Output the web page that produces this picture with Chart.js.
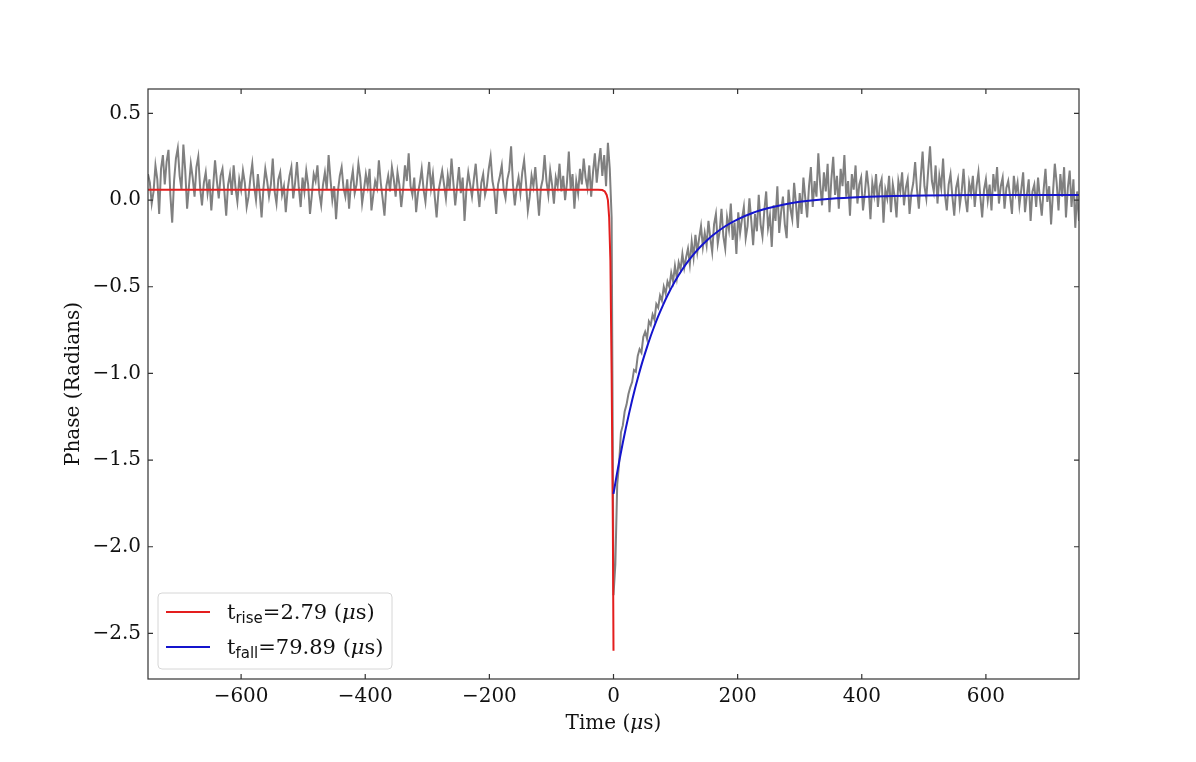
<!DOCTYPE html>
<html>
<head>
<meta charset="utf-8">
<title>Phase pulse</title>
<script src="https://cdn.jsdelivr.net/npm/chart.js@4.4.1/dist/chart.umd.min.js"></script>
<style>
  body { margin: 0; background: #fff; }
  canvas { display: block; }
</style>
</head>
<body>
<canvas id="phaseChart" width="1196" height="762"></canvas>
<script>
// Measured phase, sampled every 3 us
const sampleStep = 3;
const preStart = -750;   // first sample before the pulse
const prePhase = [
    0.15, 0.10, -0.02, 0.05, 0.20, 0.12, -0.08, 0.18, 0.26, 0.09,
    0.22, 0.29, 0.03, -0.13, 0.11, 0.24, 0.30, 0.14, 0.06, 0.32,
    0.17, -0.05, 0.08, 0.21, 0.13, 0.02, 0.19, 0.25, 0.07, -0.03,
    0.10, 0.16, 0.04, 0.12, -0.06, 0.08, 0.23, 0.11, 0.01, 0.14,
    0.18, 0.05, -0.09, 0.09, 0.15, 0.03, 0.20, 0.07, -0.01, 0.12,
    0.06, 0.17, 0.10, -0.04, 0.02, 0.13, 0.21, 0.08, 0.00, 0.15,
    0.04, -0.10, 0.07, 0.18, 0.11, 0.02, 0.09, 0.24, 0.05, -0.02,
    0.12, 0.16, 0.03, 0.08, -0.07, 0.06, 0.14, 0.19, 0.01, 0.10,
    0.22, 0.07, -0.04, 0.13, 0.05, 0.17, 0.09, -0.08, 0.03, 0.15,
    0.11, 0.20, 0.04, -0.03, 0.09, 0.16, 0.06, 0.26, 0.12, 0.00,
    0.08, -0.11, 0.05, 0.14, 0.19, 0.07, 0.02, 0.12, -0.05, 0.10,
    0.17, 0.04, 0.09, 0.21, 0.13, -0.02, 0.06, 0.15, 0.08, 0.18,
    -0.06, 0.03, 0.11, 0.07, 0.23, 0.10, 0.01, -0.09, 0.08, 0.14,
    0.05, 0.19, 0.12, 0.02, 0.16, 0.09, -0.04, 0.06, 0.20, 0.11,
    0.27, 0.08, 0.03, 0.13, -0.07, 0.04, 0.10, 0.18, 0.06, -0.01,
    0.12, 0.22, 0.07, 0.15, 0.02, -0.10, 0.05, 0.11, 0.17, 0.09,
    0.01, 0.14, 0.06, 0.24, 0.10, -0.03, 0.08, 0.19, 0.04, 0.13,
    -0.12, 0.06, 0.16, 0.09, 0.02, 0.12, 0.21, 0.07, -0.04, 0.10,
    0.15, 0.03, 0.08, 0.18, 0.25, 0.11, 0.05, -0.08, 0.09, 0.14,
    0.20, 0.06, 0.01, 0.12, 0.17, 0.31, 0.09, -0.03, 0.07, 0.13,
    0.04, 0.16, 0.23, 0.10, -0.06, 0.02, 0.14, 0.08, 0.19, 0.05,
    -0.09, 0.07, 0.12, 0.26, 0.11, 0.03, 0.17, 0.09, -0.02, 0.13,
    0.08, 0.21, 0.05, 0.14, 0.00, 0.10, 0.28, 0.06, 0.15, -0.05,
    0.11, 0.04, 0.18, 0.09, 0.24, 0.13, 0.07, 0.20, 0.02, 0.16,
    0.27, 0.10, 0.21, 0.30, 0.14, 0.26, 0.08, 0.33, 0.18, -0.10
];
const postStart = 0;     // first sample from the pulse on
const postPhase = [
    -2.28, -2.10, -1.64, -1.52, -1.34, -1.30, -1.22, -1.18, -1.12, -1.08,
    -1.05, -0.98, -0.99, -0.90, -0.86, -0.88, -0.79, -0.76, -0.80, -0.70,
    -0.72, -0.66, -0.69, -0.60, -0.62, -0.55, -0.58, -0.50, -0.54, -0.47,
    -0.50, -0.42, -0.47, -0.38, -0.45, -0.36, -0.40, -0.31, -0.39, -0.33,
    -0.28, -0.37, -0.24, -0.33, -0.20, -0.30, -0.22, -0.15, -0.27, -0.19,
    -0.26, -0.12, -0.22, -0.30, -0.14, -0.08, -0.25, -0.18, -0.05, -0.21,
    -0.28, -0.10, -0.17, -0.02, -0.23, -0.13, -0.31, -0.07, -0.19, -0.11,
    -0.04, -0.22, -0.15, 0.01, -0.12, -0.26, -0.08, -0.18, 0.03, -0.14,
    -0.21, -0.06, 0.05, -0.16, -0.09, -0.27, -0.03, -0.12, 0.08, -0.19,
    -0.07, 0.02, -0.14, -0.22, 0.06, -0.05, -0.11, 0.10, -0.02, -0.16,
    0.04, -0.08, 0.13, 0.01, -0.10, 0.08, 0.19, -0.04, 0.11, 0.02,
    0.27, 0.09, -0.03, 0.16, 0.05, 0.21, -0.07, 0.12, 0.25, 0.03,
    0.14, -0.05, 0.18, 0.08, 0.26, 0.02, 0.11, -0.09, 0.15, 0.06,
    0.20, -0.02, 0.09, 0.13, -0.06, 0.04, 0.17, 0.07, -0.11, 0.10,
    0.03, 0.15, -0.04, 0.08, 0.12, -0.13, 0.06, 0.01, 0.14, -0.07,
    0.09, 0.02, -0.10, 0.11, 0.05, 0.16, -0.03, 0.07, 0.12, -0.08,
    0.04, 0.10, 0.22, 0.06, -0.05, 0.13, 0.28, 0.08, 0.01, 0.17,
    0.31, 0.11, 0.05, 0.20, -0.02, 0.14, 0.07, 0.24, 0.03, -0.06,
    0.09, 0.15, 0.02, -0.09, 0.07, 0.12, -0.03, 0.05, 0.18, 0.01,
    -0.07, 0.10, 0.04, 0.14, -0.04, 0.08, 0.16, 0.02, -0.10, 0.06,
    0.12, 0.00, 0.09, -0.06, 0.15, 0.05, 0.19, -0.02, 0.08, 0.13,
    -0.05, 0.07, 0.11, 0.02, -0.08, 0.14, 0.04, 0.10, -0.03, 0.06,
    0.16, -0.07, 0.03, 0.12, -0.12, 0.05, 0.09, -0.04, 0.13, 0.01,
    -0.09, 0.06, 0.18, -0.01, 0.08, -0.14, 0.04, 0.21, 0.10, -0.06,
    0.15, 0.02, 0.19, -0.10, 0.07, 0.17, -0.04, 0.12, -0.16, 0.05,
    -0.12
];

// Rise fit (red)
const riseTimes = [-750, -25, -18, -14, -11, -9, -7, -5, -3, -1, 0];
const risePhase = [0.06, 0.06, 0.058, 0.05, 0.03, 0.0, -0.1, -0.35, -1.0, -1.9, -2.6];

// Fall fit (blue)
const fallTimes = [0, 5, 10, 15, 20, 25, 30, 35, 40, 45, 50, 55, 60, 65, 70, 75, 80, 85, 90, 95, 100,
    110, 120, 130, 140, 150, 160, 180, 200, 225, 250, 275, 300, 350, 400, 450, 500, 600, 750];
const fallPhase = [-1.695, -1.590, -1.492, -1.400, -1.313, -1.232, -1.155, -1.083, -1.016, -0.952,
    -0.893, -0.837, -0.784, -0.735, -0.688, -0.645, -0.604, -0.565, -0.529, -0.495, -0.463,
    -0.405, -0.354, -0.309, -0.269, -0.234, -0.203, -0.151, -0.111, -0.073, -0.046, -0.025,
    -0.010, 0.008, 0.018, 0.024, 0.027, 0.029, 0.030];

const xTicks = [-600, -400, -200, 0, 200, 400, 600];
const yTicks = [-2.5, -2.0, -1.5, -1.0, -0.5, 0.0, 0.5];

const serif = "'DejaVu Serif', 'Liberation Serif', serif";
const sans = "'DejaVu Sans', sans-serif";
const redColor = 'rgb(228,30,30)';
const blueColor = 'rgb(20,20,205)';

function toPoints(start, values) {
    return values.map((v, i) => ({ x: start + i * sampleStep, y: v }));
}
function pairPoints(xs, ys) {
    return xs.map((x, i) => ({ x: x, y: ys[i] }));
}
function minusSign(s) {
    return s.replace('-', '\u2212');
}

// draws a run of [text, font, dy] pieces starting at x
function drawPieces(ctx, pieces, x, y) {
    pieces.forEach(p => {
        ctx.font = p[1];
        ctx.fillText(p[0], x, y + (p[2] || 0));
        x += ctx.measureText(p[0]).width;
    });
}
function piecesWidth(ctx, pieces) {
    let w = 0;
    pieces.forEach(p => { ctx.font = p[1]; w += ctx.measureText(p[0]).width; });
    return w;
}

// frame, inward ticks on all four sides, x title and legend with subscripts
const framePlugin = {
    id: 'frame',
    afterDraw(chart) {
        const ctx = chart.ctx;
        const a = chart.chartArea;
        const xs = chart.scales.x;
        const ys = chart.scales.y;
        ctx.save();
        ctx.strokeStyle = '#333';
        ctx.lineWidth = 1.2;
        ctx.strokeRect(a.left, a.top, a.right - a.left, a.bottom - a.top);
        ctx.beginPath();
        xTicks.forEach(v => {
            const px = xs.getPixelForValue(v);
            ctx.moveTo(px, a.bottom); ctx.lineTo(px, a.bottom - 5);
            ctx.moveTo(px, a.top); ctx.lineTo(px, a.top + 5);
        });
        yTicks.forEach(v => {
            const py = ys.getPixelForValue(v);
            ctx.moveTo(a.left, py); ctx.lineTo(a.left + 5, py);
            ctx.moveTo(a.right, py); ctx.lineTo(a.right - 5, py);
        });
        ctx.stroke();

        // x axis title with italic mu
        ctx.fillStyle = '#111';
        ctx.textBaseline = 'alphabetic';
        const f20 = '20px ' + serif;
        const title = [['Time (', f20], ['\u03bc', 'italic ' + f20], ['s)', f20]];
        const tw = piecesWidth(ctx, title);
        drawPieces(ctx, title, (a.left + a.right) / 2 - tw / 2, a.bottom + 50);

        // legend box
        const bx = a.left + 10, by = a.bottom - 86, bw = 234, bh = 76;
        ctx.beginPath();
        ctx.roundRect(bx, by, bw, bh, 4);
        ctx.fillStyle = 'rgba(255,255,255,0.85)';
        ctx.fill();
        ctx.strokeStyle = '#d6d6d6';
        ctx.lineWidth = 1;
        ctx.stroke();

        const f21 = '21px ' + serif;
        const rows = [
            { color: redColor, sub: 'rise', val: '=2.79 (', y: by + 19 },
            { color: blueColor, sub: 'fall', val: '=79.89 (', y: by + 54 }
        ];
        rows.forEach(r => {
            ctx.strokeStyle = r.color;
            ctx.lineWidth = 2;
            ctx.beginPath();
            ctx.moveTo(bx + 8, r.y);
            ctx.lineTo(bx + 52, r.y);
            ctx.stroke();
            ctx.fillStyle = '#111';
            drawPieces(ctx, [
                ['t', f21],
                [r.sub, '15px ' + sans, 4],
                [r.val, f21],
                ['\u03bc', 'italic ' + f21],
                ['s)', f21]
            ], bx + 69, r.y + 7);
        });
        ctx.restore();
    }
};

new Chart(document.getElementById('phaseChart').getContext('2d'), {
    type: 'line',
    data: {
        datasets: [
            {
                label: 'data',
                data: toPoints(preStart, prePhase).concat(toPoints(postStart, postPhase)),
                borderColor: '#808080',
                borderWidth: 2,
                pointRadius: 0,
                tension: 0,
                order: 3
            },
            {
                label: 'rise',
                data: pairPoints(riseTimes, risePhase),
                borderColor: redColor,
                borderWidth: 2,
                pointRadius: 0,
                tension: 0,
                order: 2
            },
            {
                label: 'fall',
                data: pairPoints(fallTimes, fallPhase),
                borderColor: blueColor,
                borderWidth: 2,
                pointRadius: 0,
                cubicInterpolationMode: 'monotone',
                order: 1
            }
        ]
    },
    options: {
        responsive: false,
        animation: false,
        devicePixelRatio: 1,
        layout: {
            padding: { left: 62, right: 117, top: 89, bottom: 21 }
        },
        plugins: {
            legend: { display: false },
            tooltip: { enabled: false }
        },
        scales: {
            x: {
                type: 'linear',
                min: -750,
                max: 750,
                afterBuildTicks: s => { s.ticks = xTicks.map(v => ({ value: v })); },
                afterFit: s => { s.height = 62; },
                grid: { display: false, drawTicks: false },
                border: { display: false },
                ticks: {
                    padding: 6,
                    color: '#111',
                    maxRotation: 0,
                    font: { family: serif, size: 20 },
                    callback: v => minusSign(String(v))
                },
                title: { display: false }
            },
            y: {
                type: 'linear',
                min: -2.763,
                max: 0.641,
                afterBuildTicks: s => { s.ticks = yTicks.map(v => ({ value: v })); },
                afterFit: s => { s.width = 86; },
                grid: { display: false, drawTicks: false },
                border: { display: false },
                ticks: {
                    padding: 7,
                    color: '#111',
                    font: { family: serif, size: 20 },
                    callback: v => minusSign(v.toFixed(1))
                },
                title: {
                    display: true,
                    text: 'Phase (Radians)',
                    color: '#111',
                    font: { family: serif, size: 20 },
                    padding: { top: 0, bottom: 0 }
                }
            }
        }
    },
    plugins: [framePlugin]
});
</script>
</body>
</html>
